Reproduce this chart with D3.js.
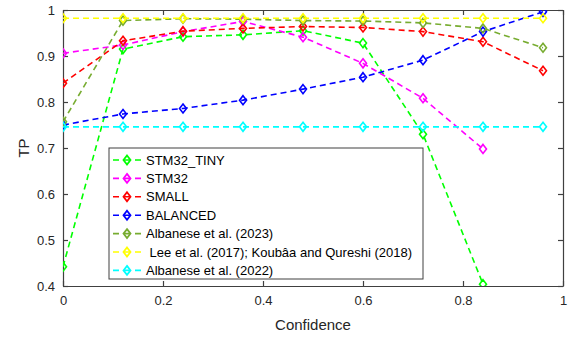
<!DOCTYPE html>
<html>
<head>
<meta charset="utf-8">
<script src="https://cdn.jsdelivr.net/npm/d3@7"></script>
<style>
  body { margin: 0; background: #fff; }
  svg { font-family: "Liberation Sans", Arial, sans-serif; }
</style>
</head>
<body>
<div id="chart"></div>
<script>
const confidence = [0, 0.12, 0.24, 0.36, 0.48, 0.6, 0.72, 0.84, 0.96];

const stm32Tiny = [0.442, 0.915, 0.942, 0.946, 0.955, 0.928, 0.730, 0.404];
const stm32 = [0.906, 0.924, 0.953, 0.975, 0.941, 0.884, 0.808, 0.698];
const small = [0.841, 0.933, 0.954, 0.960, 0.964, 0.962, 0.953, 0.931, 0.868];
const balanced = [0.750, 0.774, 0.786, 0.804, 0.828, 0.854, 0.891, 0.953, 0.996];
const albanese2023 = [0.757, 0.977, 0.981, 0.980, 0.977, 0.976, 0.972, 0.960, 0.918];
const lee2017 = [0.982, 0.982, 0.982, 0.982, 0.982, 0.982, 0.982, 0.982, 0.982];
const albanese2022 = [0.746, 0.746, 0.746, 0.746, 0.746, 0.746, 0.746, 0.746, 0.746];

const seriesNames = ['STM32_TINY', 'STM32', 'SMALL', 'BALANCED', 'Albanese et al. (2023)',
    ' Lee et al. (2017); Koubâa and Qureshi (2018)', 'Albanese et al. (2022)'];
const seriesValues = [stm32Tiny, stm32, small, balanced, albanese2023, lee2017, albanese2022];
const seriesColors = ['#00ff00', '#ff00ff', '#ff0000', '#0000ff', '#77ac30', '#ffff00', '#00ffff'];

const xTicks = [0, 0.2, 0.4, 0.6, 0.8, 1];
const yTicks = [0.4, 0.5, 0.6, 0.7, 0.8, 0.9, 1];

const width = 570, height = 337;
const plotLeft = 63, plotRight = 563, plotTop = 10, plotBottom = 286;

const svg = d3.select('#chart').append('svg')
    .attr('width', width)
    .attr('height', height);

const x = d3.scaleLinear().domain([0, 1]).range([plotLeft, plotRight]);
const y = d3.scaleLinear().domain([0.4, 1]).range([plotBottom, plotTop]);

svg.append('defs').append('clipPath').attr('id', 'plotclip')
    .append('rect')
    .attr('x', plotLeft).attr('y', plotTop)
    .attr('width', plotRight - plotLeft).attr('height', plotBottom - plotTop);

const axisColor = '#404040';
const tickLen = 5;

// axes with inward ticks
const gx = svg.append('g')
    .attr('transform', `translate(0, ${plotBottom})`)
    .call(d3.axisBottom(x).tickValues(xTicks).tickFormat(d3.format('')).tickSizeInner(-tickLen).tickSizeOuter(0).tickPadding(10));
const gxTop = svg.append('g')
    .attr('transform', `translate(0, ${plotTop})`)
    .call(d3.axisTop(x).tickValues(xTicks).tickFormat('').tickSizeInner(-tickLen).tickSizeOuter(0));
const gy = svg.append('g')
    .attr('transform', `translate(${plotLeft}, 0)`)
    .call(d3.axisLeft(y).tickValues(yTicks).tickFormat(d3.format('')).tickSizeInner(-tickLen).tickSizeOuter(0).tickPadding(8));
const gyRight = svg.append('g')
    .attr('transform', `translate(${plotRight}, 0)`)
    .call(d3.axisRight(y).tickValues(yTicks).tickFormat('').tickSizeInner(-tickLen).tickSizeOuter(0));

[gx, gxTop, gy, gyRight].forEach(g => {
    g.select('.domain').attr('stroke', axisColor).attr('stroke-width', 1.2);
    g.selectAll('.tick line').attr('stroke', axisColor).attr('stroke-width', 1.2);
    g.selectAll('.tick text').attr('fill', '#262626').style('font-size', '13px')
        .style('font-family', '"Liberation Sans", Arial, sans-serif');
});

svg.append('text')
    .attr('x', (plotLeft + plotRight) / 2)
    .attr('y', 330)
    .attr('text-anchor', 'middle')
    .attr('fill', '#262626')
    .style('font-size', '15px')
    .text('Confidence');

svg.append('text')
    .attr('transform', `translate(29, ${(plotTop + plotBottom) / 2}) rotate(-90)`)
    .attr('text-anchor', 'middle')
    .attr('fill', '#262626')
    .style('font-size', '15px')
    .text('TP');

const diamond = (cx, cy) => `M${cx},${cy - 4.5}L${cx + 3.5},${cy}L${cx},${cy + 4.5}L${cx - 3.5},${cy}Z`;

const plot = svg.append('g').attr('clip-path', 'url(#plotclip)');
const line = d3.line().x((d, i) => x(confidence[i])).y(d => y(d));

seriesValues.forEach((vals, s) => {
    const g = plot.append('g');
    g.append('path')
        .datum(vals)
        .attr('d', line)
        .attr('fill', 'none')
        .attr('stroke', seriesColors[s])
        .attr('stroke-width', 1.6)
        .attr('stroke-dasharray', '6,4');
    g.selectAll('path.mk')
        .data(vals)
        .enter()
        .append('path')
        .attr('class', 'mk')
        .attr('d', (d, i) => diamond(x(confidence[i]), y(d)))
        .attr('fill', 'none')
        .attr('stroke', seriesColors[s])
        .attr('stroke-width', 1.6);
});

// legend
const legend = svg.append('g');
const lgX = 109, lgY = 148, lgW = 314, lgH = 131;
legend.append('rect')
    .attr('x', lgX).attr('y', lgY)
    .attr('width', lgW).attr('height', lgH)
    .attr('fill', '#fff')
    .attr('stroke', axisColor)
    .attr('stroke-width', 1);

seriesNames.forEach((name, s) => {
    const cy = 160 + s * 18.4;
    legend.append('line')
        .attr('x1', 113).attr('x2', 143)
        .attr('y1', cy).attr('y2', cy)
        .attr('stroke', seriesColors[s])
        .attr('stroke-width', 1.6)
        .attr('stroke-dasharray', '6,5');
    legend.append('path')
        .attr('d', diamond(127, cy))
        .attr('fill', 'none')
        .attr('stroke', seriesColors[s])
        .attr('stroke-width', 1.8);
    legend.append('text')
        .attr('x', 146)
        .attr('y', cy + 4.5)
        .attr('fill', '#000')
        .style('font-size', '13px')
        .style('white-space', 'pre')
        .text(name);
});
</script>
</body>
</html>
